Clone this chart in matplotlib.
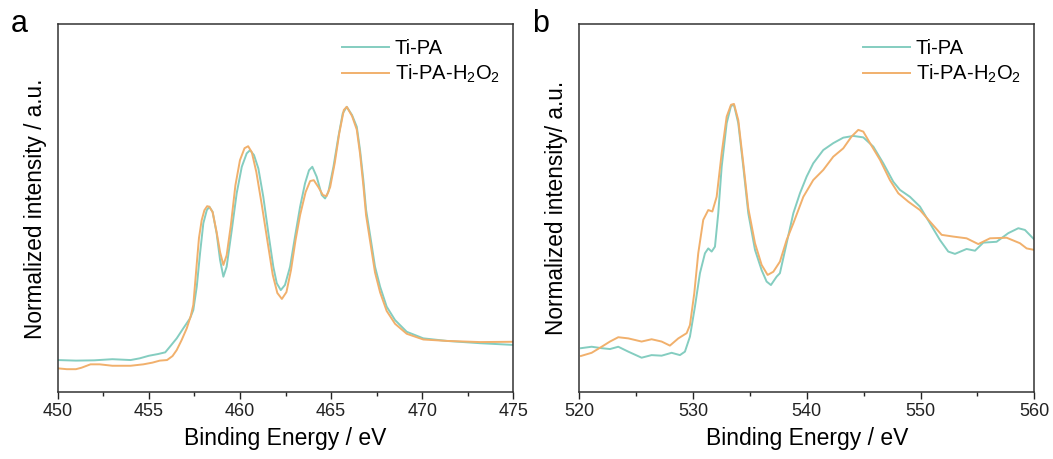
import matplotlib
matplotlib.use("Agg")
import matplotlib.pyplot as plt
from matplotlib.ticker import MultipleLocator

plt.rcParams['font.family'] = ['Liberation Sans', 'DejaVu Sans']
plt.rcParams['mathtext.default'] = 'regular'

# Ti 2p region (panel a)
ti_energy_pa = [450.0, 451.0, 452.0, 453.0, 454.0, 454.5, 455.0, 455.5, 455.9, 456.16,
                456.53, 456.89, 457.26, 457.44, 457.63, 457.81, 457.99, 458.18, 458.32, 458.5,
                458.72, 458.91, 459.09, 459.27, 459.55, 459.82, 460.1, 460.37, 460.55, 460.77,
                461.01, 461.28, 461.56, 461.83, 462.02, 462.24, 462.47, 462.75, 463.02, 463.3,
                463.57, 463.79, 463.97, 464.21, 464.49, 464.67, 464.85, 465.13, 465.4, 465.64,
                465.86, 466.15, 466.41, 466.59, 466.77, 466.92, 467.14, 467.41, 467.69, 468.05,
                468.51, 469.15, 470.06, 471.35, 473.17, 475.0]
ti_int_pa = [0.113, 0.111, 0.112, 0.116, 0.113, 0.119, 0.128, 0.134, 0.140, 0.160,
             0.189, 0.224, 0.259, 0.288, 0.370, 0.487, 0.592, 0.638, 0.650, 0.632,
             0.557, 0.463, 0.405, 0.440, 0.568, 0.697, 0.790, 0.837, 0.848, 0.831,
             0.784, 0.685, 0.557, 0.440, 0.382, 0.358, 0.376, 0.440, 0.545, 0.650,
             0.732, 0.778, 0.790, 0.755, 0.691, 0.679, 0.702, 0.790, 0.895, 0.977,
             1.000, 0.971, 0.930, 0.848, 0.744, 0.639, 0.551, 0.440, 0.370, 0.300,
             0.253, 0.212, 0.189, 0.180, 0.172, 0.166]

ti_energy_h2o2 = [450.0, 450.5, 451.0, 451.3, 451.8, 452.3, 453.0, 454.0, 454.7, 455.2,
                  455.6, 456.0, 456.3, 456.53, 456.8, 457.08, 457.3, 457.44, 457.6, 457.75,
                  457.9, 458.05, 458.2, 458.32, 458.5, 458.72, 458.91, 459.09, 459.27, 459.5,
                  459.75, 460.0, 460.25, 460.45, 460.65, 460.9, 461.2, 461.5, 461.8, 462.05,
                  462.3, 462.55, 462.8, 463.05, 463.3, 463.6, 463.85, 464.05, 464.3, 464.55,
                  464.75, 464.95, 465.2, 465.45, 465.7, 465.86, 466.15, 466.41, 466.59, 466.77,
                  466.92, 467.14, 467.41, 467.69, 468.05, 468.51, 469.15, 470.06, 471.35, 473.17,
                  475.0]
ti_int_h2o2 = [0.084, 0.081, 0.081, 0.086, 0.098, 0.098, 0.093, 0.093, 0.098, 0.104,
               0.111, 0.113, 0.127, 0.148, 0.183, 0.224, 0.267, 0.306, 0.428, 0.540,
               0.603, 0.638, 0.652, 0.650, 0.631, 0.561, 0.491, 0.446, 0.480, 0.585,
               0.725, 0.813, 0.855, 0.862, 0.841, 0.771, 0.656, 0.533, 0.411, 0.348,
               0.327, 0.351, 0.428, 0.533, 0.621, 0.701, 0.740, 0.743, 0.719, 0.691,
               0.687, 0.719, 0.803, 0.908, 0.989, 1.000, 0.968, 0.920, 0.835, 0.725,
               0.620, 0.530, 0.420, 0.350, 0.285, 0.240, 0.205, 0.185, 0.180, 0.176,
               0.177]

# O 1s / K-edge region (panel b)
o_energy_pa = [520.15, 521.09, 521.97, 522.7, 523.43, 524.31, 525.48, 526.36, 527.24, 528.12,
               528.85, 529.29, 529.73, 530.17, 530.61, 531.05, 531.34, 531.64, 531.93, 532.22,
               532.52, 532.96, 533.34, 533.6, 533.98, 534.42, 534.86, 535.45, 536.03, 536.47,
               536.85, 537.35, 537.64, 538.23, 538.82, 539.4, 539.99, 540.57, 541.45, 542.33,
               543.21, 544.09, 544.97, 545.85, 546.73, 547.61, 548.19, 549.07, 549.95, 550.83,
               551.71, 552.44, 553.03, 554.05, 554.79, 555.52, 556.69, 557.72, 558.6, 559.18,
               559.97]
o_int_pa = [0.153, 0.158, 0.153, 0.150, 0.158, 0.141, 0.120, 0.129, 0.127, 0.137,
            0.129, 0.141, 0.193, 0.297, 0.413, 0.482, 0.499, 0.488, 0.505, 0.621,
            0.782, 0.933, 0.993, 0.997, 0.933, 0.782, 0.621, 0.494, 0.424, 0.384,
            0.372, 0.401, 0.413, 0.517, 0.621, 0.690, 0.748, 0.794, 0.840, 0.864,
            0.883, 0.889, 0.884, 0.852, 0.794, 0.730, 0.702, 0.678, 0.644, 0.586,
            0.528, 0.488, 0.480, 0.497, 0.491, 0.519, 0.522, 0.552, 0.569, 0.563,
            0.531]

o_energy_h2o2 = [520.15, 521.09, 521.97, 522.7, 523.43, 524.31, 525.48, 526.36, 527.24, 527.97,
                 528.71, 529.44, 529.73, 530.11, 530.46, 530.9, 531.34, 531.7, 532.08, 532.52,
                 532.96, 533.34, 533.6, 533.98, 534.42, 534.86, 535.45, 536.03, 536.56, 537.06,
                 537.64, 538.23, 538.82, 539.7, 540.57, 541.45, 542.33, 543.21, 543.94, 544.53,
                 544.97, 545.56, 546.44, 547.31, 548.05, 548.93, 549.95, 550.83, 551.86, 552.88,
                 554.05, 555.08, 556.11, 557.57, 558.74, 559.33, 559.97]
o_int_h2o2 = [0.126, 0.137, 0.158, 0.176, 0.191, 0.187, 0.176, 0.184, 0.176, 0.162,
              0.187, 0.205, 0.233, 0.343, 0.482, 0.598, 0.632, 0.627, 0.678, 0.829,
              0.956, 0.997, 1.000, 0.944, 0.794, 0.638, 0.517, 0.442, 0.407, 0.418,
              0.453, 0.528, 0.586, 0.678, 0.736, 0.771, 0.817, 0.846, 0.887, 0.910,
              0.904, 0.864, 0.806, 0.736, 0.690, 0.661, 0.632, 0.592, 0.546, 0.540,
              0.534, 0.514, 0.534, 0.536, 0.517, 0.499, 0.494]

labels = ['Ti-PA', 'Ti-PA-H$_2$O$_2$']
teal = '#84cdc0'
orange = '#f1b06c'

fig = plt.figure(figsize=(10.53, 4.59), dpi=100)
ax_a = fig.add_axes([0.0548, 0.1453, 0.4327, 0.8017])
ax_b = fig.add_axes([0.5501, 0.1453, 0.4321, 0.8017])

panels = [
    (ax_a, ti_energy_pa, ti_int_pa, ti_energy_h2o2, ti_int_h2o2,
     (450, 475), (0, 1.289), 5, 'Normalized intensity / a.u.', 'a'),
    (ax_b, o_energy_pa, o_int_pa, o_energy_h2o2, o_int_h2o2,
     (520, 560), (0, 1.276), 10, 'Normalized intensity/ a.u.', 'b'),
]

for ax, x1, y1, x2, y2, xlim, ylim, step, ylab, tag in panels:
    ax.plot(x1, y1, color=teal, lw=1.4, label=labels[0])
    ax.plot(x2, y2, color=orange, lw=1.4, label=labels[1])
    ax.set_xlim(*xlim)
    ax.set_ylim(*ylim)
    ax.xaxis.set_major_locator(MultipleLocator(step))
    ax.xaxis.set_minor_locator(MultipleLocator(step / 2))
    ax.set_yticks([])
    ax.tick_params(axis='x', which='major', direction='out', length=5, width=1,
                   labelsize=13, pad=3, colors='#222222')
    ax.tick_params(axis='x', which='minor', direction='out', length=3, width=1,
                   colors='#222222')
    for sp in ax.spines.values():
        sp.set_color('#333333')
        sp.set_linewidth(1.1)
    ax.set_xlabel('Binding Energy / eV', fontsize=16.5, labelpad=5)
    ax.set_ylabel(ylab, fontsize=16.3, labelpad=8)
    ax.legend(loc='upper right', bbox_to_anchor=(1.01, 1.01), frameon=False,
              fontsize=14.5, handlelength=2.3, handletextpad=0.3, labelspacing=0.25)
    ax.text(-0.085, 1.0, tag, transform=ax.transAxes, fontsize=22,
            ha='center', va='center')

fig.savefig('out.png', dpi=100)
